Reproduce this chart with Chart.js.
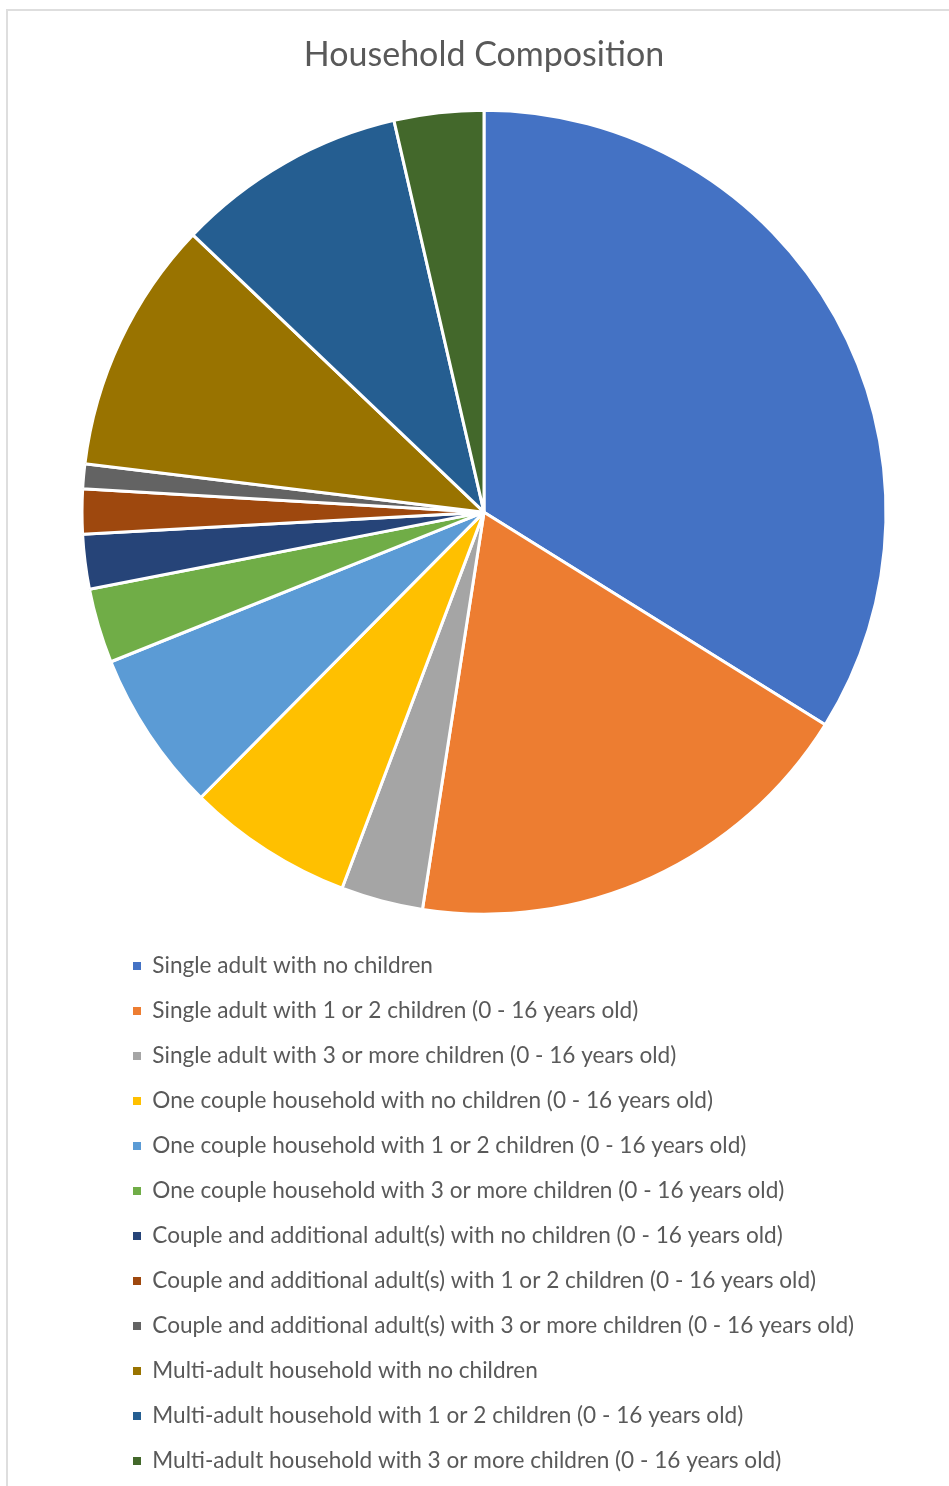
<!DOCTYPE html>
<html>
<head>
<meta charset="utf-8">
<title>Household Composition</title>
<script src="https://cdn.jsdelivr.net/npm/chart.js@4.4.1/dist/chart.umd.min.js"></script>
<style>
  html, body { margin: 0; padding: 0; background: #fff; overflow: hidden; }
  .frame {
    position: absolute; left: 6px; top: 9px; width: 1000px; height: 1480px;
    border: 2px solid #dedede; box-sizing: border-box;
  }
  .chart-box { position: absolute; left: 0; top: 0; width: 949px; height: 1486px; }
</style>
</head>
<body>
<div class="frame"></div>
<div class="chart-box"><canvas id="compositionChart"></canvas></div>
<script>
// Data (share of households, %)
const categories = [
  "Single adult with no children",
  "Single adult with 1 or 2 children (0 - 16 years old)",
  "Single adult with 3 or more children (0 - 16 years old)",
  "One couple household with no children (0 - 16 years old)",
  "One couple household with 1 or 2 children (0 - 16 years old)",
  "One couple household with 3 or more children (0 - 16 years old)",
  "Couple and additional adult(s) with no children (0 - 16 years old)",
  "Couple and additional adult(s) with 1 or 2 children (0 - 16 years old)",
  "Couple and additional adult(s) with 3 or more children (0 - 16 years old)",
  "Multi-adult household with no children",
  "Multi-adult household with 1 or 2 children (0 - 16 years old)",
  "Multi-adult household with 3 or more children (0 - 16 years old)",
];
const shares = [33.9, 18.6, 3.3, 6.7, 6.5, 3.0, 2.2, 1.8, 1.0, 10.2, 9.3, 3.6];
const sliceColors = [
  "#4472C4", "#ED7D31", "#A5A5A5", "#FFC000", "#5B9BD5", "#70AD47",
  "#264478", "#9E480E", "#636363", "#997300", "#255E91", "#43682B",
];

const textColor = "#595959";
const fontFamily = "Lato, 'Open Sans', sans-serif";

const compositionCtx = document.getElementById("compositionChart").getContext("2d");
const compositionChart = new Chart(compositionCtx, {
  type: "pie",
  data: {
    labels: categories,
    datasets: [
      {
        data: shares,
        backgroundColor: sliceColors,
        borderColor: "#ffffff",
        borderWidth: 3,
        radius: 402,
        clip: false,
      },
    ],
  },
  options: {
    responsive: true,
    maintainAspectRatio: false,
    animation: false,
    layout: {
      padding: { left: 110.6, right: 91.6, top: 0, bottom: 3.7 },
    },
    plugins: {
      title: {
        display: true,
        text: "Household Composition",
        color: textColor,
        font: { family: fontFamily, size: 34, weight: "normal" },
        padding: { top: 34.6, bottom: 16.6 },
      },
      legend: {
        position: "bottom",
        align: "start",
        labels: {
          color: textColor,
          font: { family: fontFamily, size: 22.6 },
          boxWidth: 8,
          boxHeight: 8,
          padding: 22.4,
          // plain squares, no white outline
          generateLabels: (chart) =>
            Chart.overrides.pie.plugins.legend.labels
              .generateLabels(chart)
              .map((item) => ({ ...item, lineWidth: 0 })),
        },
      },
      tooltip: { enabled: false },
    },
  },
});
</script>
</body>
</html>
